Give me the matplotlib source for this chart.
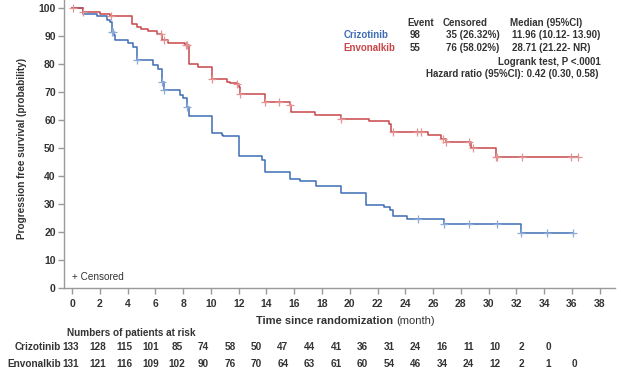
import numpy as np
import matplotlib
matplotlib.use("Agg")
import matplotlib.pyplot as plt
from matplotlib.transforms import blended_transform_factory

plt.rcParams['font.family'] = ['Liberation Sans', 'DejaVu Sans']

# Kaplan-Meier steps (month, PFS %)
criz_t = [0, 0.8, 1.8, 2.5, 2.7, 2.86, 3.0, 3.1, 4.06, 4.4, 4.66, 5.86, 6.2, 6.47, 6.6,
          7.8, 8.0, 8.27, 8.4, 10.07, 10.8, 10.9, 12.0, 13.7, 13.9, 15.7, 16.4, 17.6,
          19.4, 21.2, 22.45, 22.9, 23.1, 24.1, 26.8, 32.3, 36.1]
criz_s = [100, 98.0, 97.3, 96.0, 95.0, 91.5, 90.3, 88.8, 87.6, 86.1, 81.4, 79.6, 78.4, 73.6, 70.6,
          69.0, 67.8, 64.6, 61.6, 55.5, 54.7, 54.2, 47.2, 45.5, 41.3, 38.7, 38.0, 36.2,
          33.8, 29.7, 28.8, 27.6, 25.6, 24.6, 22.8, 19.6, 19.6]
envo_t = [0, 0.8, 2.0, 2.7, 4.3, 4.66, 5.0, 5.5, 6.1, 6.47, 6.94, 8.15, 8.4, 9.1, 10.07,
          11.15, 11.4, 11.9, 12.0, 12.1, 13.9, 15.7, 15.8, 17.5, 19.4, 21.4, 22.8, 23.0,
          25.6, 26.6, 26.9, 28.7, 30.5, 36.4]
envo_s = [100, 98.7, 98.0, 97.2, 94.5, 93.3, 92.5, 91.8, 90.9, 88.8, 87.7, 86.7, 80.0, 79.0, 74.6,
          73.6, 73.2, 72.8, 71.8, 69.4, 66.4, 65.5, 62.8, 61.8, 60.4, 59.6, 58.7, 55.7,
          54.5, 53.3, 52.1, 50.1, 46.7, 46.7]

# censoring times
criz_cens = [2.86, 2.95, 4.66, 6.47, 6.6, 8.27, 24.9, 26.8, 28.6, 30.6, 32.3, 34.2, 36.1]
envo_cens = [0.1, 0.8, 2.8, 6.4, 6.6, 8.2, 8.3, 10.1, 11.9, 12.1, 13.9, 14.9, 15.7, 19.4,
             23.1, 24.85, 25.1, 26.7, 26.9, 28.6, 28.9, 30.5, 30.6, 32.4, 35.9, 36.4]

# numbers at risk
risk_t = list(range(0, 40, 2))
criz_risk = [133, 128, 115, 101, 85, 74, 58, 50, 47, 44, 41, 36, 31, 24, 16, 11, 10, 2, 0]
envo_risk = [131, 121, 116, 109, 102, 90, 76, 70, 64, 63, 61, 60, 54, 46, 34, 24, 12, 2, 1, 0]

arms = ['Crizotinib', 'Envonalkib']
events = ['98', '55']
censored = ['35 (26.32%)', '76 (58.02%)']
medians = ['11.96 (10.12- 13.90)', '28.71 (21.22- NR)']

blue = '#3d6db3'
red = '#c8474a'
blue_l = '#8eaad6'
red_l = '#e29494'
txt = '#333333'
axc = '#9a9a9a'


def surv_at(t, times, surv):
    idx = np.searchsorted(times, t, side='right') - 1
    return np.array(surv)[idx]


fig = plt.figure(figsize=(6.21, 3.77), dpi=100)
L, R = 64 / 621, 615 / 621
B = 1 - 287.5 / 377
ax = fig.add_axes([L, B, R - L, 1 - B])

ax.step(criz_t, criz_s, where='post', color=blue, lw=1.1)
ax.step(envo_t, envo_s, where='post', color=red, lw=1.1)
ax.plot(criz_cens, surv_at(criz_cens, criz_t, criz_s), '+', color=blue_l, ms=6, mew=0.9)
ax.plot(envo_cens, surv_at(envo_cens, envo_t, envo_s), '+', color=red_l, ms=6, mew=0.9)

ax.set_xlim(-0.58, 39.1)
ax.set_ylim(0, 103)
ax.set_xticks(range(0, 40, 2))
ax.set_yticks(range(0, 101, 10))
for s in ['top', 'right']:
    ax.spines[s].set_visible(False)
for s in ['left', 'bottom']:
    ax.spines[s].set_color(axc)
    ax.spines[s].set_linewidth(1.0)
ax.tick_params(colors=axc, labelcolor=txt, length=4, width=1.0, labelsize=7.5)
ax.tick_params(axis='x', pad=4)
ax.tick_params(axis='y', pad=2)
for lab in ax.get_yticklabels() + ax.get_xticklabels():
    lab.set_fontweight('bold')

fig.text(22 / 621, 1 - 148 / 377, 'Progression free survival (probability)', rotation=90,
         ha='center', va='center', fontsize=7.2, fontweight='bold', color=txt)

t1 = fig.text(256 / 621, 1 - 321 / 377, 'Time since randomization ', ha='left', va='center',
              fontsize=8, fontweight='bold', color=txt)
ax.annotate('(month)', xy=(1, 0.5), xycoords=t1, ha='left', va='center', fontsize=8, color=txt)

fig.text(72 / 621, 1 - 277 / 377, '+ Censored', ha='left', va='center', fontsize=7.2, color=txt)

# summary table at top right
fs = 7
rows_y = [23.3, 35, 48.3]
fig.text(407 / 621, 1 - rows_y[0] / 377, 'Event', ha='left', va='center', fontsize=fs, fontweight='bold', color=txt)
fig.text(443 / 621, 1 - rows_y[0] / 377, 'Censored', ha='left', va='center', fontsize=fs, fontweight='bold', color=txt)
fig.text(510 / 621, 1 - rows_y[0] / 377, 'Median (95%CI)', ha='left', va='center', fontsize=fs, fontweight='bold', color=txt)
for i, (arm, c) in enumerate(zip(arms, [blue, red])):
    y = 1 - rows_y[i + 1] / 377
    fig.text(343.5 / 621, y, arm, ha='left', va='center', fontsize=fs, fontweight='bold', color=c)
    fig.text(410 / 621, y, events[i], ha='left', va='center', fontsize=fs, fontweight='bold', color=txt)
    fig.text(446 / 621, y, censored[i], ha='left', va='center', fontsize=fs, fontweight='bold', color=txt)
    fig.text(512.5 / 621, y, medians[i], ha='left', va='center', fontsize=fs, fontweight='bold', color=txt)
fig.text(601 / 621, 1 - 61.7 / 377, 'Logrank test, P <.0001', ha='right', va='center',
         fontsize=fs, fontweight='bold', color=txt)
fig.text(598.5 / 621, 1 - 74 / 377, 'Hazard ratio (95%CI): 0.42 (0.30, 0.58)', ha='right', va='center',
         fontsize=fs, fontweight='bold', color=txt)

# risk table (its own x scale, a little tighter than the plot's)
rax = fig.add_axes([L, 0, R - L, B - 0.01])
rax.set_xlim(-0.53, 41.06)
rax.axis('off')
tr = blended_transform_factory(rax.transData, fig.transFigure)
fig.text(67 / 621, 1 - 332.7 / 377, 'Numbers of patients at risk', ha='left', va='center',
         fontsize=7.2, fontweight='bold', color=txt)
for i, (arm, counts) in enumerate(zip(arms, [criz_risk, envo_risk])):
    yy = 1 - [347.3, 364.3][i] / 377
    fig.text(60.5 / 621, yy, arm, ha='right', va='center', fontsize=7.2, fontweight='bold', color=txt)
    for t, n in zip(risk_t, counts):
        rax.text(t, yy, str(n), transform=tr, ha='center', va='center',
                 fontsize=7.2, fontweight='bold', color=txt)

fig.savefig('out.png', dpi=100)
